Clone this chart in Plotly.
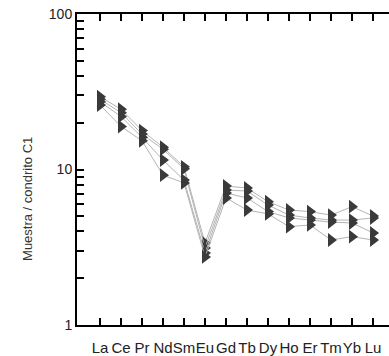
import plotly.graph_objects as go

elements = ["La", "Ce", "Pr", "Nd", "Sm", "Eu", "Gd", "Tb", "Dy", "Ho", "Er", "Tm", "Yb", "Lu"]

sample_1 = [29.4, 24.4, 17.8, 13.9, 10.4, 3.37, 7.83, 7.6, 6.21, 5.49, 5.36, 5.09, 5.77, 5.02]
sample_2 = [28.3, 23.2, 16.9, 13.5, 10.1, 3.13, 7.38, 7.27, 5.91, 5.09, 4.88, 4.73, 4.73, 4.88]
sample_3 = [27.3, 21.9, 16.1, 11.5, 8.55, 2.90, 7.06, 6.56, 5.36, 4.88, 4.73, 4.59, 4.53, 3.91]
sample_4 = [26.0, 18.9, 15.3, 9.2, 8.2, 2.74, 6.56, 5.49, 5.18, 4.29, 4.40, 3.52, 3.70, 3.52]

samples = [sample_1, sample_2, sample_3, sample_4]

y_major = [1, 10, 100]
y_minor = [2, 3, 4, 5, 6, 7, 8, 9, 20, 30, 40, 50, 60, 70, 80, 90]

fig = go.Figure()
x_idx = list(range(len(elements)))
for s in samples:
    fig.add_trace(go.Scatter(
        x=x_idx, y=s, mode="lines+markers",
        line=dict(color="#b4b4b4", width=1),
        marker=dict(symbol="triangle-right", size=12, color="#3a3a3a",
                    line=dict(width=0)),
        showlegend=False,
    ))

fig.update_layout(
    width=389, height=356,
    margin=dict(l=77, r=0, t=14, b=31),
    paper_bgcolor="white", plot_bgcolor="white",
    font=dict(family="Liberation Sans, Arial, sans-serif", color="#222", size=14),
)
fig.update_xaxes(
    range=[-1.095, 13.76],
    tickvals=x_idx, ticktext=elements,
    tickangle=0,
    showline=True, linecolor="black", linewidth=2,
    mirror="ticks",
    ticks="inside", ticklen=7, tickwidth=2, tickcolor="black",
    showgrid=False, zeroline=False,
    ticklabelstandoff=8,
    tickfont=dict(size=15, color="#222"),
)
fig.update_yaxes(
    type="log", range=[0, 2],
    tickvals=y_major, ticktext=["1", "10", "100"],
    showline=True, linecolor="black", linewidth=2,
    ticks="inside", ticklen=7, tickwidth=2, tickcolor="black",
    minor=dict(tickvals=y_minor, ticks="inside", ticklen=7, tickwidth=2, tickcolor="black"),
    showgrid=False, zeroline=False,
    tickfont=dict(size=14, color="#222"),
)
fig.add_annotation(
    text="Muestra / condrito C1", xref="paper", yref="paper",
    x=-0.191, y=0.405, textangle=-90, showarrow=False,
    font=dict(size=13, color="#333"),
)
fig.write_html("out.html", config={"displayModeBar": False},
               post_script="document.body.style.margin='0';")
